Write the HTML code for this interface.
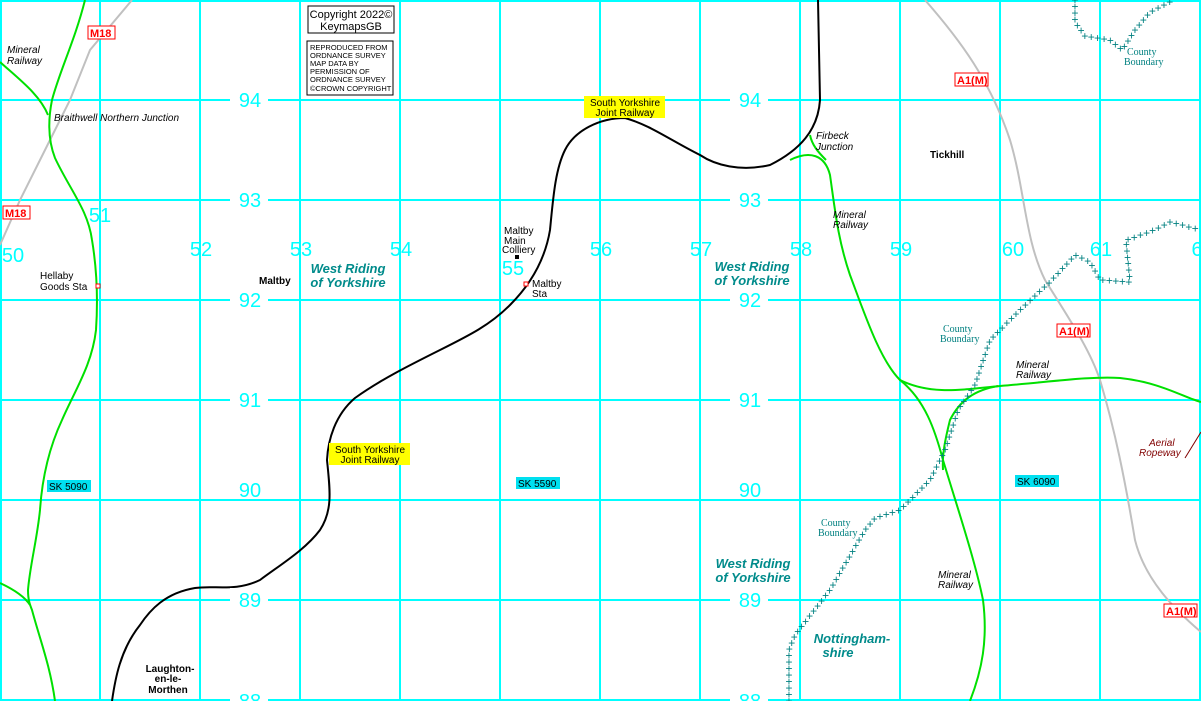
<!DOCTYPE html>
<html><head><meta charset="utf-8"><style>
body{margin:0;background:#fff;width:1201px;height:701px;overflow:hidden}
svg{display:block;font-family:"Liberation Sans",sans-serif}
.g{font-size:20px;fill:#00ffff}
.s{font-size:10px;fill:#000}
.i{font-size:10px;font-style:italic;fill:#000}
.c{font-size:10px;fill:#008080;font-family:"Liberation Serif",serif}
.w{font-size:13px;font-weight:bold;font-style:italic;fill:#008b8b}
.b{font-size:10px;font-weight:bold;fill:#000}
</style></head><body>
<svg id="m" width="1201" height="701" viewBox="0 0 1201 701">
<g stroke="#00ffff" stroke-width="2">
<line x1="1" y1="0" x2="1" y2="701"/><line x1="100" y1="0" x2="100" y2="701"/><line x1="200" y1="0" x2="200" y2="701"/><line x1="300" y1="0" x2="300" y2="701"/><line x1="400" y1="0" x2="400" y2="701"/><line x1="500" y1="0" x2="500" y2="701"/><line x1="600" y1="0" x2="600" y2="701"/><line x1="700" y1="0" x2="700" y2="701"/><line x1="800" y1="0" x2="800" y2="701"/><line x1="900" y1="0" x2="900" y2="701"/><line x1="1000" y1="0" x2="1000" y2="701"/><line x1="1100" y1="0" x2="1100" y2="701"/><line x1="1200" y1="0" x2="1200" y2="701"/>
<line x1="0" y1="1" x2="1201" y2="1"/><line x1="0" y1="100" x2="1201" y2="100"/><line x1="0" y1="200" x2="1201" y2="200"/><line x1="0" y1="300" x2="1201" y2="300"/><line x1="0" y1="400" x2="1201" y2="400"/><line x1="0" y1="500" x2="1201" y2="500"/><line x1="0" y1="600" x2="1201" y2="600"/><line x1="0" y1="700" x2="1201" y2="700"/>
</g>
<g fill="none" stroke="#c0c0c0" stroke-width="2">
<path d="M132,0 L90,50 L70,100 L50,140 L20,200 L0,245"/>
<path d="M925,0 C960,40 990,80 1010,140 C1025,190 1025,240 1045,280 C1070,320 1090,350 1100,380 C1115,430 1125,480 1135,540 C1145,580 1175,610 1201,632"/>
</g>
<g fill="none" stroke="#00e000" stroke-width="2">
<path d="M85,0 C75,40 60,70 52,100 C48,120 48,140 55,158 C70,190 88,210 92,240 C97,270 98,300 96,330 C92,365 75,390 62,420 C48,450 42,480 40,510 C37,540 30,565 28,590 C28,600 30,605 32,610 C40,640 50,665 55,701"/>
<path d="M0,62 C20,80 40,95 48,115"/>
<path d="M0,583 C15,590 25,597 30,605"/>
<path d="M790,160 C810,150 825,155 830,175 C835,210 838,240 850,275 C865,315 880,360 900,380 C930,395 960,390 1000,386 C1050,382 1090,376 1120,378 C1160,382 1185,398 1201,402"/>
<path d="M810,135 C812,145 818,152 826,160"/>
<path d="M900,380 C925,400 935,430 943,460 C955,500 975,560 983,600 C988,640 982,670 970,701"/>
<path d="M998,386 C975,390 960,400 950,420 C945,440 942,455 943,470"/>
</g>
<path fill="none" stroke="#000" stroke-width="2" d="M818,0 L820,100 C818,130 800,150 770,165 C740,172 715,165 700,155 C670,140 650,125 625,118 C600,118 575,130 565,150 C555,170 553,200 550,230 C545,260 530,285 510,305 C490,325 470,335 440,350 C410,365 380,380 355,398 C335,415 328,440 327,460 C330,490 333,510 320,530 C305,550 280,565 260,580 C235,592 215,585 195,588 C165,593 150,610 140,625 C120,650 115,680 112,701"/>
<g id="plus" fill="#008080" font-size="12" font-family="Liberation Mono,monospace"></g>
<g class="g" text-anchor="middle">
<g fill="#fff"><rect x="230" y="88" width="38" height="22"/><rect x="730" y="88" width="38" height="22"/><rect x="230" y="188" width="38" height="22"/><rect x="730" y="188" width="38" height="22"/><rect x="230" y="288" width="38" height="22"/><rect x="730" y="288" width="38" height="22"/><rect x="230" y="388" width="38" height="22"/><rect x="730" y="388" width="38" height="22"/><rect x="230" y="588" width="38" height="22"/><rect x="730" y="588" width="38" height="22"/><rect x="230" y="690" width="38" height="12"/><rect x="730" y="690" width="38" height="12"/></g>
<text x="250" y="107">94</text><text x="750" y="107">94</text>
<text x="250" y="207">93</text><text x="750" y="207">93</text>
<text x="250" y="307">92</text><text x="750" y="307">92</text>
<text x="250" y="407">91</text><text x="750" y="407">91</text>
<text x="250" y="497">90</text><text x="750" y="497">90</text>
<text x="250" y="607">89</text><text x="750" y="607">89</text>
<text x="250" y="708">88</text><text x="750" y="708">88</text>
<text x="13" y="262">50</text><text x="100" y="222">51</text><text x="201" y="256">52</text><text x="301" y="256">53</text><text x="401" y="256">54</text><text x="513" y="275">55</text><text x="601" y="256">56</text><text x="701" y="256">57</text><text x="801" y="256">58</text><text x="901" y="256">59</text><text x="1013" y="256">60</text><text x="1101" y="256">61</text><text x="1197" y="256">6</text>
</g>
<rect x="308" y="6" width="86" height="27" fill="#fff" stroke="#000"/>
<text x="351" y="18" font-size="11" text-anchor="middle">Copyright 2022©</text>
<text x="351" y="30" font-size="11" text-anchor="middle">KeymapsGB</text>
<rect x="307" y="41" width="86" height="54" fill="#fff" stroke="#000"/>
<g font-size="7.5"><text x="310" y="50">REPRODUCED FROM</text><text x="310" y="58">ORDNANCE SURVEY</text><text x="310" y="66">MAP DATA BY</text><text x="310" y="74">PERMISSION OF</text><text x="310" y="82">ORDNANCE SURVEY</text><text x="310" y="91">©CROWN COPYRIGHT</text></g>
<g font-size="11" font-weight="bold" fill="#f00">
<rect x="88" y="26" width="27" height="13" fill="#fff" stroke="#f00"/><text x="90" y="37">M18</text>
<rect x="3" y="206" width="27" height="13" fill="#fff" stroke="#f00"/><text x="5" y="217">M18</text>
<rect x="955" y="73" width="33" height="13" fill="#fff" stroke="#f00"/><text x="957" y="84">A1(M)</text>
<rect x="1057" y="324" width="33" height="13" fill="#fff" stroke="#f00"/><text x="1059" y="335">A1(M)</text>
<rect x="1164" y="604" width="33" height="13" fill="#fff" stroke="#f00"/><text x="1166" y="615">A1(M)</text>
</g>
<rect x="584" y="96" width="81" height="22" fill="#ffff00"/>
<text x="625" y="106" font-size="10" text-anchor="middle">South Yorkshire</text><text x="625" y="116" font-size="10" text-anchor="middle">Joint Railway</text>
<rect x="329" y="443" width="81" height="22" fill="#ffff00"/>
<text x="370" y="453" font-size="10" text-anchor="middle">South Yorkshire</text><text x="370" y="463" font-size="10" text-anchor="middle">Joint Railway</text>
<g font-size="10"><rect x="47" y="480" width="44" height="12" fill="#00e0f0"/><text x="49" y="490">SK 5090</text>
<rect x="516" y="477" width="44" height="12" fill="#00e0f0"/><text x="518" y="487">SK 5590</text>
<rect x="1015" y="475" width="44" height="12" fill="#00e0f0"/><text x="1017" y="485">SK 6090</text></g>
<text class="i" x="7" y="53">Mineral</text><text class="i" x="7" y="64">Railway</text>
<text class="i" x="54" y="121">Braithwell Northern Junction</text>
<text class="i" x="816" y="139">Firbeck</text><text class="i" x="816" y="150">Junction</text>
<text class="i" x="833" y="218">Mineral</text><text class="i" x="833" y="228">Railway</text>
<text class="i" x="1016" y="368">Mineral</text><text class="i" x="1016" y="378">Railway</text>
<text class="i" x="938" y="578">Mineral</text><text class="i" x="938" y="588">Railway</text>
<text class="i" x="1149" y="446" style="fill:#800000">Aerial</text><text class="i" x="1139" y="456" style="fill:#800000">Ropeway</text>
<line x1="1185" y1="458" x2="1201" y2="432" stroke="#800000"/>
<text class="s" x="40" y="279">Hellaby</text><text class="s" x="40" y="290">Goods Sta</text>
<rect x="96" y="284" width="4" height="4" fill="#fff" stroke="#f00"/>
<text class="s" x="504" y="234">Maltby</text><text class="s" x="504" y="244">Main</text><text class="s" x="502" y="253">Colliery</text>
<rect x="515" y="255" width="4" height="4" fill="#000"/>
<rect x="524" y="282" width="4" height="4" fill="#fff" stroke="#f00"/>
<text class="s" x="532" y="287">Maltby</text><text class="s" x="532" y="297">Sta</text>
<text class="b" x="259" y="284">Maltby</text>
<text class="b" x="930" y="158">Tickhill</text>
<g class="b" text-anchor="middle"><text x="170" y="672">Laughton-</text><text x="168" y="682">en-le-</text><text x="168" y="693">Morthen</text></g>
<g class="w" text-anchor="middle"><text x="348" y="273">West Riding</text><text x="348" y="287">of Yorkshire</text>
<text x="752" y="271">West Riding</text><text x="752" y="285">of Yorkshire</text>
<text x="753" y="568">West Riding</text><text x="753" y="582">of Yorkshire</text>
<text x="852" y="643">Nottingham-</text><text x="838" y="657">shire</text></g>
<g class="c"><text x="1127" y="55">County</text><text x="1124" y="65">Boundary</text>
<text x="943" y="332">County</text><text x="940" y="342">Boundary</text>
<text x="821" y="526">County</text><text x="818" y="536">Boundary</text></g>
</svg>
<script>
var ns="http://www.w3.org/2000/svg",g=document.getElementById('plus');
function cb(d){var p=document.createElementNS(ns,'path');p.setAttribute('d',d);p.setAttribute('fill','none');document.getElementById('m').appendChild(p);var L=p.getTotalLength();for(var s=0;s<=L;s+=6.5){var q=p.getPointAtLength(s);var t=document.createElementNS(ns,'text');t.setAttribute('x',q.x-3.6);t.setAttribute('y',q.y+4);t.textContent='+';g.appendChild(t);}p.remove();}
cb("M1075,0 L1075,22 L1085,36 L1110,40 L1122,50 L1135,30 L1150,12 L1170,2");
cb("M789,701 L789,650 L795,635 L830,590 L865,530 L875,518 L900,510 L930,480 L945,450 L958,410 L975,385 L990,340 L1020,310 L1050,282 L1075,255 L1090,262 L1100,280 L1130,282 L1126,240 L1150,232 L1170,222 L1201,230");
</script>
</body></html>
